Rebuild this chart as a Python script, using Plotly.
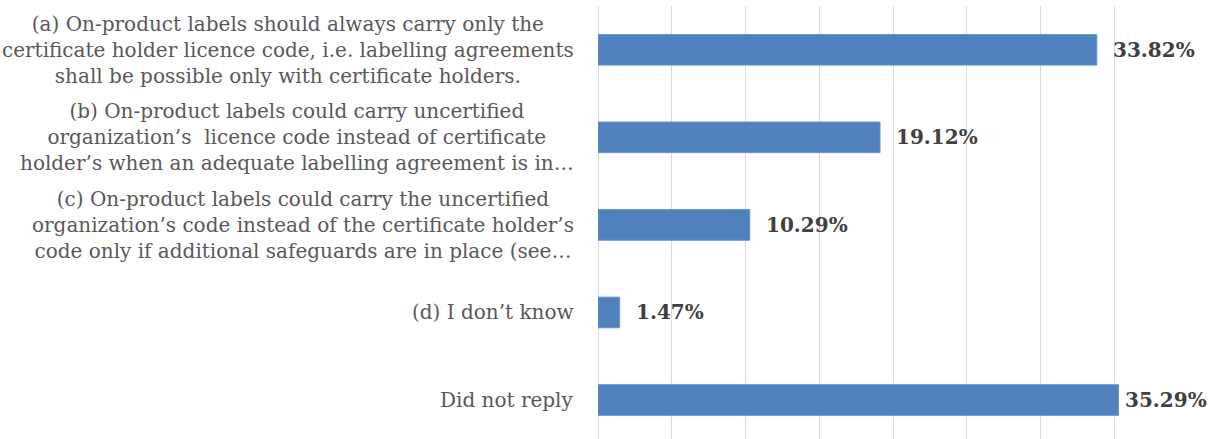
import plotly.graph_objects as go

# answer options (top to bottom) and share of respondents
options = [
    "(a) On-product labels should always carry only the<br>certificate holder licence code, i.e. labelling agreements<br>shall be possible only with certificate holders.",
    "(b) On-product labels could carry uncertified<br>organization’s  licence code instead of certificate<br>holder’s when an adequate labelling agreement is in…",
    "(c) On-product labels could carry the uncertified<br>organization’s code instead of the certificate holder’s<br>code only if additional safeguards are in place (see…",
    "(d) I don’t know",
    "Did not reply",
]
shares = [33.82, 19.12, 10.29, 1.47, 35.29]
x_ticks = [0, 5, 10, 15, 20, 25, 30, 35, 40]

bar_color = "#4f81bd"
label_font = "DejaVu Serif, Liberation Serif, serif"
idx = list(range(len(options)))

fig = go.Figure()
fig.add_trace(go.Bar(
    x=shares, y=idx, orientation="h", width=0.35,
    marker=dict(color=bar_color, line=dict(color="#6b96cc", width=1)),
    hoverinfo="x",
))

# category labels, centered lines like the original
for i, txt in enumerate(options):
    fig.add_annotation(
        x=0, xref="x", y=i, yref="y", text=txt, showarrow=False,
        xanchor="right", align="center", xshift=-22,
        font=dict(family=label_font, size=20, color="#595959"),
    )

# value labels
for i, v in enumerate(shares):
    fig.add_annotation(
        x=v, xref="x", y=i, yref="y", text=f"{v:.2f}%", showarrow=False,
        xanchor="left", xshift=4 if v > 35 else 14,
        font=dict(family=label_font, size=20, color="#404040", weight="bold"),
    )

fig.update_xaxes(
    range=[0, 40], tickvals=x_ticks, showticklabels=False,
    showgrid=True, gridcolor="#d9d9d9", gridwidth=1,
    zeroline=True, zerolinecolor="#d9d9d9", zerolinewidth=1,
)
fig.update_yaxes(range=[4.445, -0.5], showticklabels=False, showgrid=False, zeroline=False)

fig.update_layout(
    width=1218, height=439,
    margin=dict(l=598, r=30, t=6, b=0),
    plot_bgcolor="white", paper_bgcolor="white",
    showlegend=False,
)

# page has a default 8px body margin; drop it so the figure sits at 0,0
fig.write_html("out.html", config={"displayModeBar": False},
               post_script="document.body.style.margin='0';")
